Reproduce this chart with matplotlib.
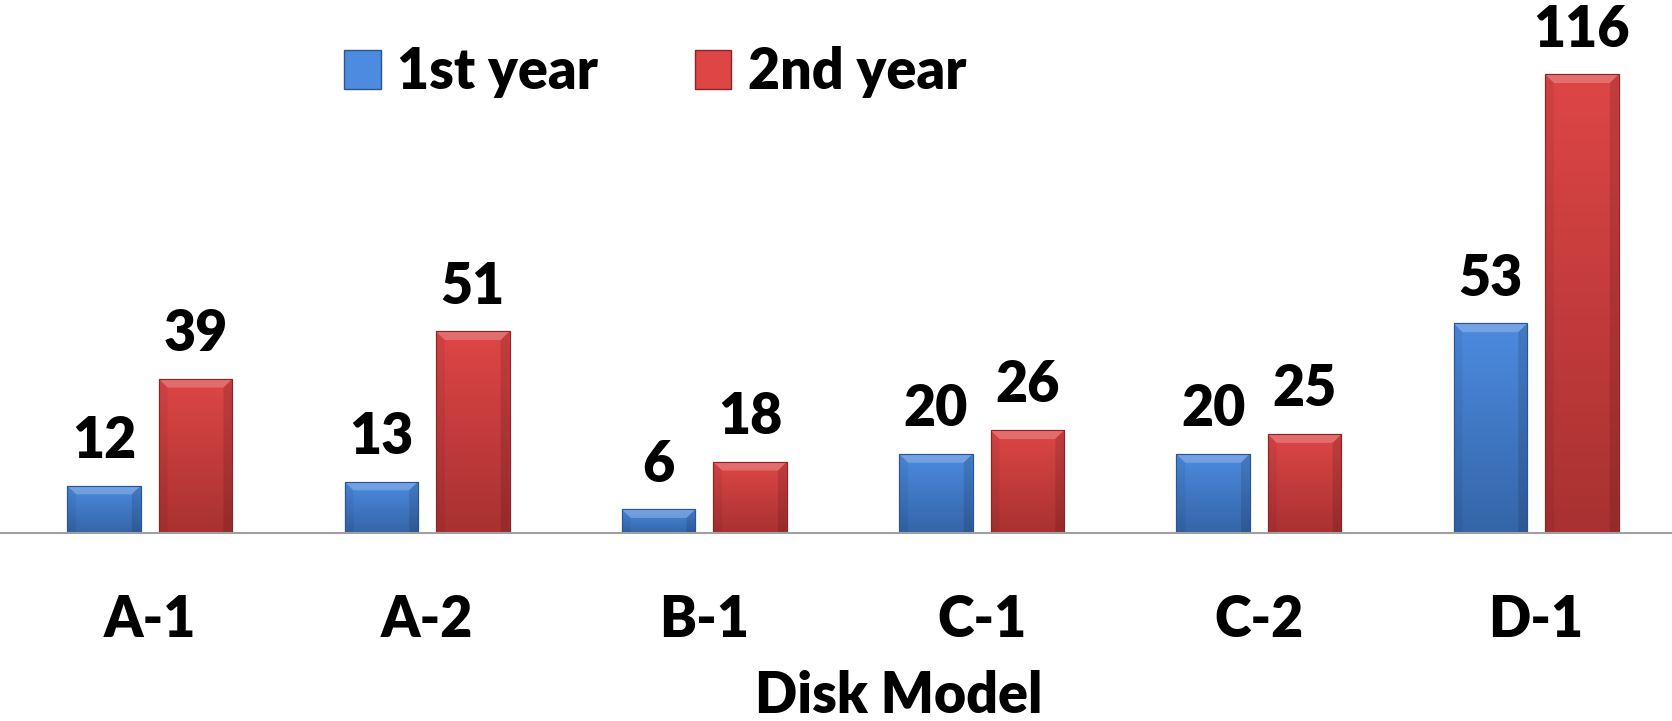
import numpy as np
import matplotlib.pyplot as plt
from matplotlib.colors import LinearSegmentedColormap
from matplotlib.patches import Rectangle, Polygon

models = ["A-1", "A-2", "B-1", "C-1", "C-2", "D-1"]
first_year = [12, 13, 6, 20, 20, 53]
second_year = [39, 51, 18, 26, 25, 116]
series_names = ["1st year", "2nd year"]

plt.rcParams["font.family"] = ["Lato", "DejaVu Sans"]
WEIGHT = "heavy"

blue_top, blue_bot, blue_edge = "#4d8be0", "#3465a8", "#2c5590"
red_top, red_bot, red_edge = "#de4646", "#a93131", "#8a2525"

fig = plt.figure(figsize=(16.72, 7.21), dpi=100)
ax = fig.add_axes([0.0, 0.2607, 1.0, 0.7393])

x = np.arange(len(models))
width = 0.265
gap = 0.065


def shaded_bars(xpos, values, top, bot, edge):
    bars = ax.bar(xpos, values, width, color=top, edgecolor=edge, linewidth=0.8, zorder=2)
    cmap = LinearSegmentedColormap.from_list("g", [bot, top])
    grad = np.linspace(0, 1, 256).reshape(-1, 1)
    for b in bars:
        x0, w, h = b.get_x(), b.get_width(), b.get_height()
        im = ax.imshow(grad, extent=[x0, x0 + w, 0, h], origin="lower", aspect="auto",
                       cmap=cmap, zorder=2.1)
        im.set_clip_path(b)
        bev_x = w * 0.12
        bev_y = 2.2
        # top bevel (lighter) and side bevels (darker)
        ax.add_patch(Polygon([(x0, h), (x0 + w, h), (x0 + w - bev_x, h - bev_y), (x0 + bev_x, h - bev_y)],
                             closed=True, facecolor="white", alpha=0.22, lw=0, zorder=2.2))
        ax.add_patch(Polygon([(x0, h), (x0 + bev_x, h - bev_y), (x0 + bev_x, 0), (x0, 0)],
                             closed=True, facecolor="black", alpha=0.06, lw=0, zorder=2.2))
        ax.add_patch(Polygon([(x0 + w, h), (x0 + w - bev_x, h - bev_y), (x0 + w - bev_x, 0), (x0 + w, 0)],
                             closed=True, facecolor="black", alpha=0.12, lw=0, zorder=2.2))
        ax.add_patch(Rectangle((x0, 0), w, h, facecolor="none", edgecolor=edge, lw=0.8, zorder=2.3))
        ax.annotate(f"{int(h)}", (x0 + w / 2, h), xytext=(0, 20), textcoords="offset points",
                    ha="center", va="baseline", fontsize=40, fontweight=WEIGHT, color="black")
    return bars


off = (width + gap) / 2
shaded_bars(x - off, first_year, blue_top, blue_bot, blue_edge)
shaded_bars(x + off, second_year, red_top, red_bot, red_edge)

ax.set_xlim(-0.54, 5.49)
ax.set_ylim(0, 134.8)
ax.set_xticks(x)
ax.set_xticklabels(models, fontsize=40, fontweight=WEIGHT)
ax.tick_params(axis="x", length=0, pad=44)
ax.set_yticks([])
for s in ["top", "left", "right"]:
    ax.spines[s].set_visible(False)
ax.spines["bottom"].set_color("#a0a0a0")
ax.spines["bottom"].set_linewidth(1.5)

fig.text(0.5377, 0.035, "Disk Model", ha="center", va="center", fontsize=40, fontweight=WEIGHT)

handles = [Rectangle((0, 0), 1, 1, facecolor=blue_top, edgecolor=blue_edge),
           Rectangle((0, 0), 1, 1, facecolor=red_top, edgecolor=red_edge)]
fig.legend(handles, series_names, loc="center", bbox_to_anchor=(0.392, 0.9), ncol=2,
           frameon=False, handlelength=0.65, handleheight=0.7,
           handletextpad=0.3, columnspacing=1.75, prop={"weight": WEIGHT, "size": 40})

fig.savefig("out.png", dpi=100)
